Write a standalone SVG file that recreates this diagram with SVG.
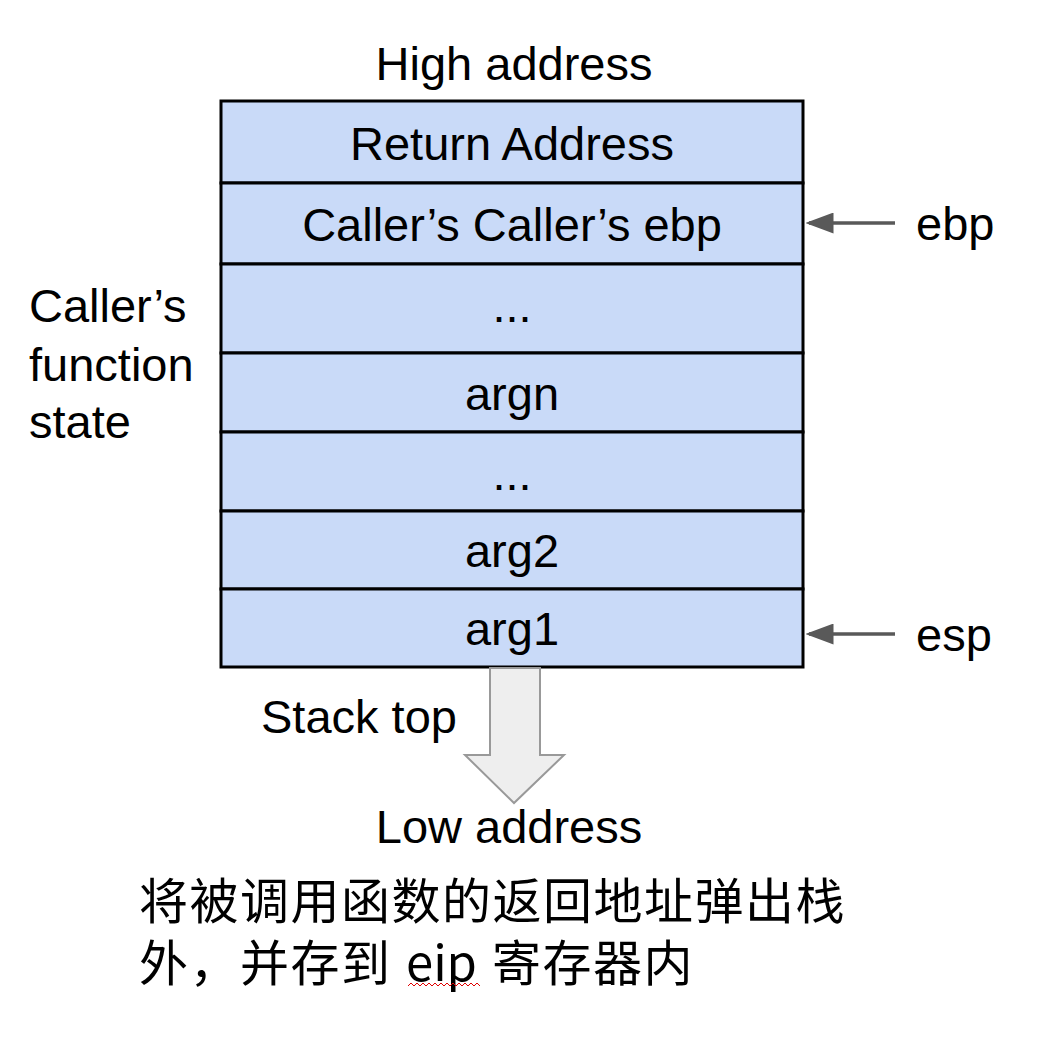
<svg xmlns="http://www.w3.org/2000/svg" width="1046" height="1044" viewBox="0 0 1046 1044">
<style>
.t{font-family:"Liberation Sans",Arial,sans-serif;font-size:47px;fill:#000}
.c{text-anchor:middle}
.cell{fill:#c9daf8;stroke:#000;stroke-width:3}
.ptr{stroke:#595959;stroke-width:3.5;fill:none}
.cjk{font-family:"Noto Sans CJK SC","Microsoft YaHei",sans-serif;font-size:49px;fill:#000}
</style>
<defs>
<marker id="ah" markerWidth="8" markerHeight="6" refX="7" refY="3" orient="auto" markerUnits="strokeWidth">
<path d="M0,0 L8,3 L0,6 Z" fill="#595959"/>
</marker>
</defs>
<rect width="1046" height="1044" fill="#fff"/>
<text class="t c" x="514" y="80">High address</text>
<g id="stack">
<g id="n-ret"><rect class="cell" x="221" y="101" width="582" height="82"/><text class="t c" x="512" y="160">Return Address</text></g>
<g id="n-cce"><rect class="cell" x="221" y="183" width="582" height="81"/><text class="t c" x="512" y="241">Caller’s Caller’s ebp</text></g>
<g id="n-dots1"><rect class="cell" x="221" y="264" width="582" height="89"/><text class="t c" x="512" y="322">...</text></g>
<g id="n-argn"><rect class="cell" x="221" y="353" width="582" height="79"/><text class="t c" x="512" y="410">argn</text></g>
<g id="n-dots2"><rect class="cell" x="221" y="432" width="582" height="79"/><text class="t c" x="512" y="490">...</text></g>
<g id="n-arg2"><rect class="cell" x="221" y="511" width="582" height="78"/><text class="t c" x="512" y="567">arg2</text></g>
<g id="n-arg1"><rect class="cell" x="221" y="589" width="582" height="78"/><text class="t c" x="512" y="645">arg1</text></g>
</g>
<g id="n-callerstate">
<text class="t" x="29" y="322">Caller’s</text>
<text class="t" x="29" y="381">function</text>
<text class="t" x="29" y="438">state</text>
</g>
<g id="n-ebp"><text class="t" x="916" y="240">ebp</text></g>
<g id="n-esp"><text class="t" x="916" y="651">esp</text></g>
<g id="connectors">
<line class="ptr" x1="895" y1="223" x2="809" y2="223" marker-end="url(#ah)"/>
<line class="ptr" x1="895" y1="634" x2="809" y2="634" marker-end="url(#ah)"/>
<path d="M490,668 L540,668 L540,755 L564,755 L514,803 L465,755 L490,755 Z" fill="#eeeeee" stroke="#999999" stroke-width="2"/>
</g>
<text class="t" x="261" y="733">Stack top</text>
<text class="t c" x="509" y="843">Low address</text>
<g id="caption">
<text class="cjk" x="139" y="919" letter-spacing="1.5">将被调用函数的返回地址弹出栈</text>
<text class="cjk" y="981"><tspan x="139" letter-spacing="1.5">外，并存到</tspan><tspan x="406">eip</tspan><tspan x="492" letter-spacing="1.5">寄存器内</tspan></text>
<polyline points="408,986 411,983 414,986 417,983 420,986 423,983 426,986 429,983 432,986 435,983 438,986 441,983 444,986 447,983 450,986 453,983 456,986 459,983 462,986 465,983 468,986 471,983 474,986 477,983 480,986" fill="none" stroke="#e00000" stroke-width="1"/>
</g>
</svg>
